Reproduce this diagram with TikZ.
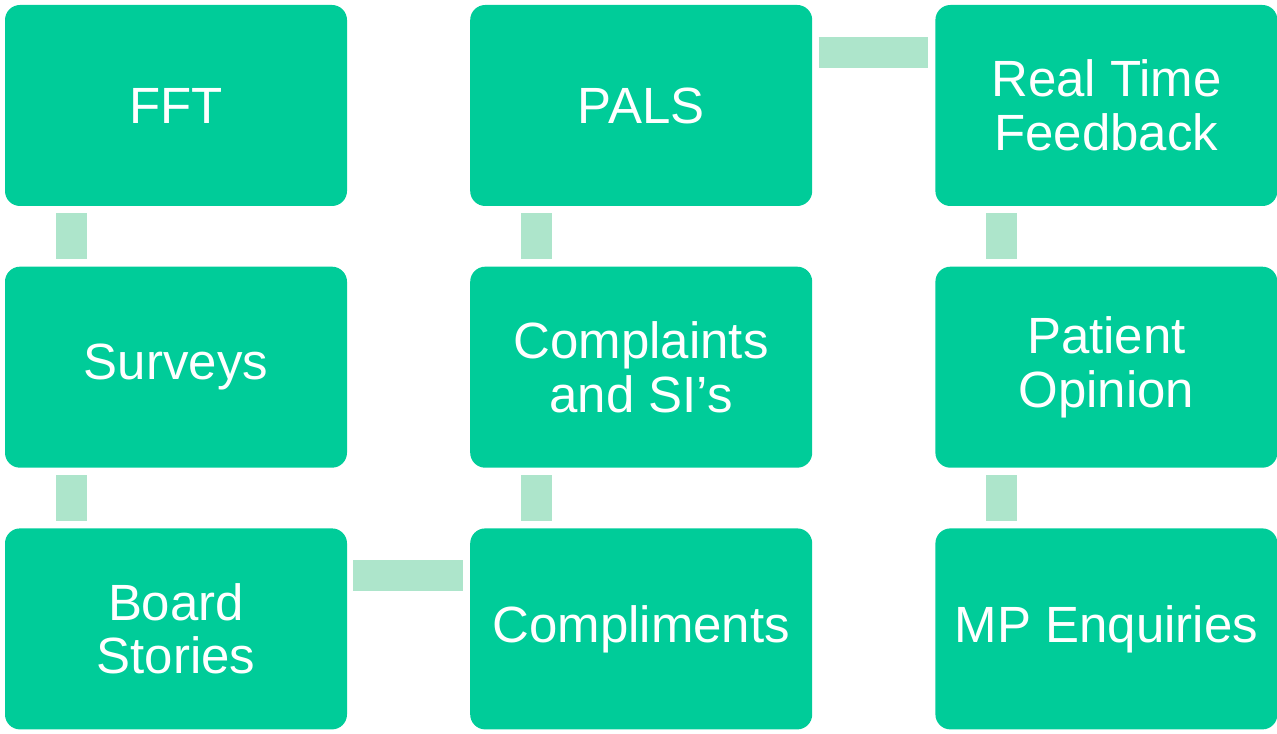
\documentclass[tikz,border=0pt]{standalone}
\usepackage{fontspec}
\setmainfont{Liberation Sans}
\usetikzlibrary{positioning}
\definecolor{boxgreen}{RGB}{0,204,153}
\definecolor{linkgreen}{RGB}{173,229,203}
\tikzset{
  item/.style={fill=boxgreen, rounded corners=0.3cm, minimum width=6.84cm, minimum height=4.02cm,
    text=white, align=center, inner sep=0pt, font=\fontsize{29}{30.5}\selectfont},
  link/.style={draw=linkgreen, line width=0.62cm}
}
\begin{document}
\begin{tikzpicture}[node distance=1.20cm and 2.45cm]
\useasboundingbox (0,0) rectangle (25.54,14.66);
\node [item] (fft) at (3.52,12.55) {FFT};
\node [item, below=of fft] (surveys) {Surveys};
\node [item, below=of surveys] (board) {Board\\Stories};
\node [item, right=of fft] (pals) {PALS};
\node [item, below=of pals] (complaints) {Complaints\\and SI’s};
\node [item, below=of complaints] (compliments) {Compliments};
\node [item, right=of pals] (rtf) {Real Time\\Feedback};
\node [item, below=of rtf] (opinion) {Patient\\Opinion};
\node [item, below=of opinion] (mp) {MP Enquiries};

% vertical links
\draw [link, shorten <=0.14cm, shorten >=0.14cm] ([xshift=1.33cm]fft.south west) -- ([xshift=1.33cm]surveys.north west);
\draw [link, shorten <=0.14cm, shorten >=0.14cm] ([xshift=1.33cm]surveys.south west) -- ([xshift=1.33cm]board.north west);
\draw [link, shorten <=0.14cm, shorten >=0.14cm] ([xshift=1.33cm]pals.south west) -- ([xshift=1.33cm]complaints.north west);
\draw [link, shorten <=0.14cm, shorten >=0.14cm] ([xshift=1.33cm]complaints.south west) -- ([xshift=1.33cm]compliments.north west);
\draw [link, shorten <=0.14cm, shorten >=0.14cm] ([xshift=1.33cm]rtf.south west) -- ([xshift=1.33cm]opinion.north west);
\draw [link, shorten <=0.14cm, shorten >=0.14cm] ([xshift=1.33cm]opinion.south west) -- ([xshift=1.33cm]mp.north west);
% horizontal links
\draw [link, shorten <=0.12cm, shorten >=0.14cm] ([yshift=-0.95cm]board.north east) -- ([yshift=-0.95cm]compliments.north west);
\draw [link, shorten <=0.12cm, shorten >=0.14cm] ([yshift=-0.95cm]pals.north east) -- ([yshift=-0.95cm]rtf.north west);
\end{tikzpicture}
\end{document}
